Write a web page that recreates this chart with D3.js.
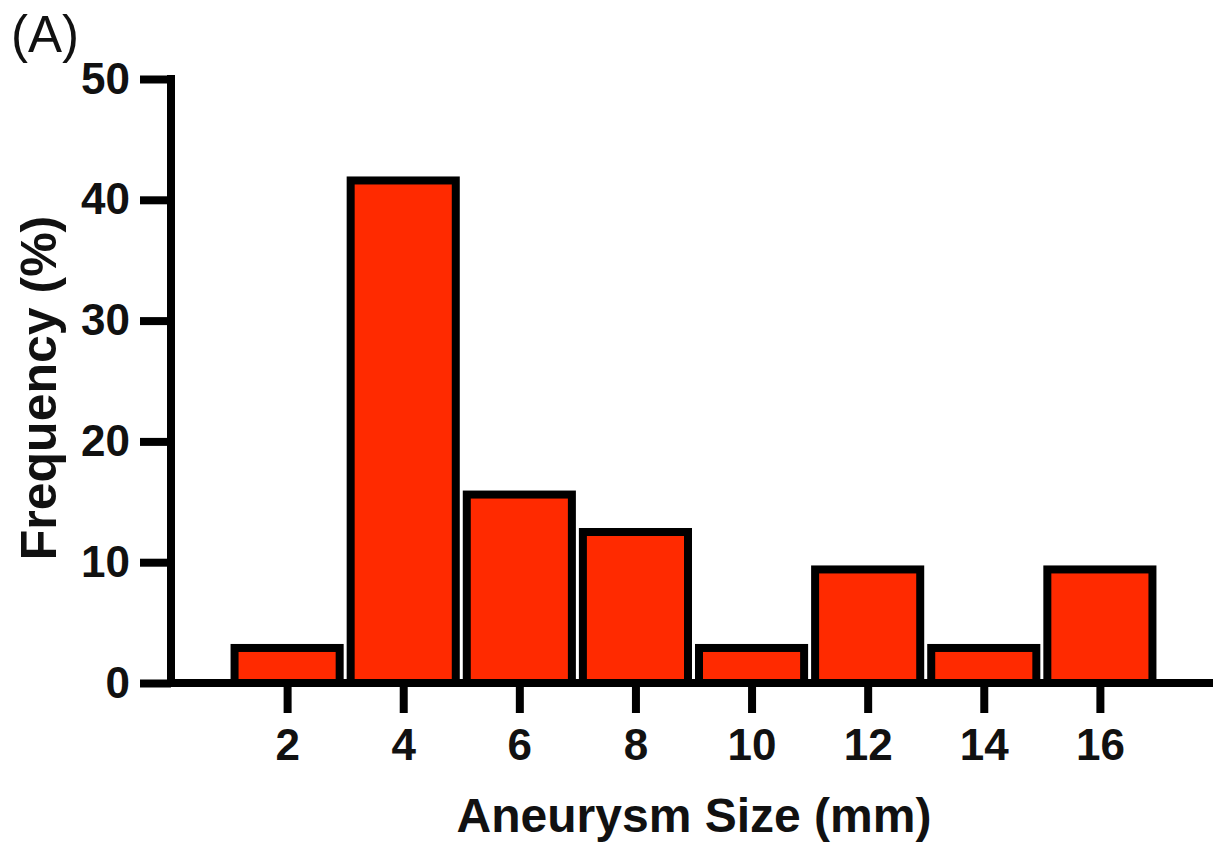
<!DOCTYPE html>
<html>
<head>
<meta charset="utf-8">
<script src="https://cdn.jsdelivr.net/npm/d3@7"></script>
<style>
  body { margin: 0; background: #fff; }
  text { font-family: "Liberation Sans", Arial, sans-serif; }
</style>
</head>
<body>
<div id="chart"></div>
<script>
var svgWidth = 1213;
var svgHeight = 847;

// bin centres (mm) and frequency (%)
var binCenters = [2, 4, 6, 8, 10, 12, 14, 16];
var frequency = [2.9, 41.6, 15.6, 12.5, 2.9, 9.4, 2.9, 9.4];
var xTicks = [2, 4, 6, 8, 10, 12, 14, 16];
var yTicks = [0, 10, 20, 30, 40, 50];
var binWidth = 2;

var svg = d3.select("#chart")
  .append("svg")
  .attr("width", svgWidth)
  .attr("height", svgHeight);

var xScale = d3.scaleLinear()
  .domain([0, 18])
  .range([171, 1216]);

var yScale = d3.scaleLinear()
  .domain([0, 50])
  .range([683, 79]);

// bars
var bw = xScale(binWidth) - xScale(0);
svg.append("g")
  .selectAll("rect")
  .data(binCenters)
  .enter()
  .append("rect")
  .attr("x", (d) => xScale(d - binWidth / 2) + 5.5)
  .attr("width", bw - 11)
  .attr("y", (d, i) => yScale(frequency[i]))
  .attr("height", (d, i) => yScale(0) - yScale(frequency[i]))
  .attr("fill", "#ff2a00")
  .attr("stroke", "#000")
  .attr("stroke-width", 8);

// y axis
var leftAxis = d3.axisLeft(yScale)
  .tickValues(yTicks)
  .tickSize(31)
  .tickPadding(10)
  .tickSizeOuter(0);

var yAxis = svg.append("g")
  .attr("transform", "translate(171,0)")
  .call(leftAxis);

yAxis.select(".domain")
  .attr("stroke-width", 8)
  .attr("d", "M0," + (yScale(50) - 4) + "V" + (yScale(0) + 4));
yAxis.selectAll(".tick line").attr("stroke-width", 8);
yAxis.selectAll(".tick text")
  .attr("font-size", 44)
  .attr("font-weight", "bold")
  .attr("fill", "#111")
  .attr("font-family", "Liberation Sans, Arial, sans-serif");

// x axis
var bottomAxis = d3.axisBottom(xScale)
  .tickValues(xTicks)
  .tickSize(30)
  .tickPadding(16)
  .tickSizeOuter(0);

var xAxis = svg.append("g")
  .attr("transform", "translate(0,683)")
  .call(bottomAxis);

xAxis.select(".domain")
  .attr("stroke-width", 8)
  .attr("d", "M167,0H1213");
xAxis.selectAll(".tick line").attr("stroke-width", 8);
xAxis.selectAll(".tick text")
  .attr("font-size", 44)
  .attr("font-weight", "bold")
  .attr("fill", "#111")
  .attr("font-family", "Liberation Sans, Arial, sans-serif");

// axis titles
svg.append("text")
  .attr("transform", "translate(56,388) rotate(-90)")
  .attr("text-anchor", "middle")
  .attr("font-size", 50)
  .attr("font-weight", "bold")
  .attr("fill", "#111")
  .text("Frequency (%)");

svg.append("text")
  .attr("x", 694)
  .attr("y", 832)
  .attr("text-anchor", "middle")
  .attr("font-size", 48)
  .attr("font-weight", "bold")
  .attr("fill", "#111")
  .text("Aneurysm Size (mm)");

// panel label
svg.append("text")
  .attr("x", 11)
  .attr("y", 52)
  .attr("font-size", 51)
  .attr("fill", "#111")
  .text("(A)");
</script>
</body>
</html>
